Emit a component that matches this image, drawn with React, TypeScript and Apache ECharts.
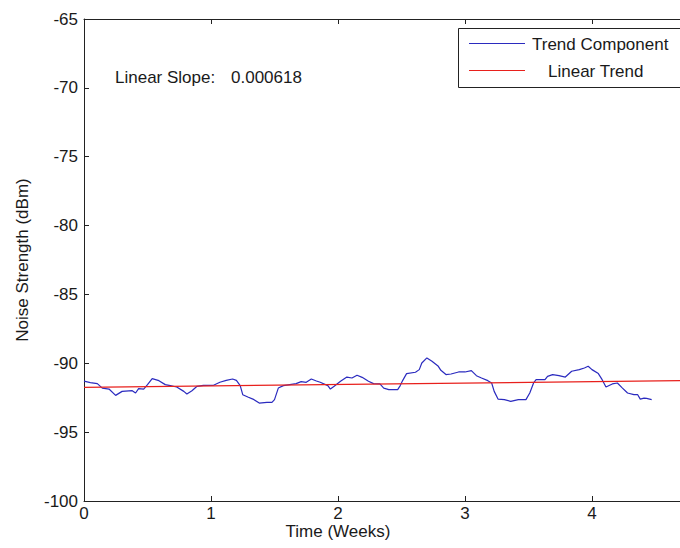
import React, { useEffect, useRef } from "react";
import * as echarts from "echarts";

// Trend component (weeks, dBm)
const weeks = [
  0, 0.05, 0.105, 0.144, 0.197, 0.249, 0.3, 0.38, 0.406, 0.43, 0.47, 0.5, 0.537, 0.59, 0.64, 0.68, 0.73, 0.786, 0.81, 0.85,
  0.89, 0.94, 1.02, 1.07, 1.12, 1.17, 1.2, 1.23, 1.25, 1.29, 1.33, 1.38, 1.44, 1.48, 1.5, 1.53, 1.57, 1.62, 1.67, 1.71,
  1.75, 1.79, 1.83, 1.86, 1.92, 1.94, 1.97, 2.02, 2.07, 2.11, 2.15, 2.19, 2.24, 2.28, 2.33, 2.36, 2.4, 2.47, 2.49, 2.51,
  2.54, 2.61, 2.64, 2.66, 2.7, 2.74, 2.79, 2.81, 2.85, 2.89, 2.95, 3.0, 3.05, 3.09, 3.13, 3.18, 3.21, 3.23, 3.26, 3.31,
  3.36, 3.42, 3.48, 3.51, 3.54, 3.56, 3.63, 3.65, 3.69, 3.74, 3.79, 3.84, 3.9, 3.94, 3.97, 4.0, 4.05, 4.08, 4.11, 4.16,
  4.2, 4.24, 4.28, 4.33, 4.36, 4.38, 4.41, 4.43, 4.47,
];
const trendComponent = [
  -91.3, -91.4, -91.48, -91.8, -91.87, -92.33, -92.04, -91.99, -92.16, -91.84, -91.87, -91.55, -91.11, -91.26, -91.55, -91.62, -91.72, -92.04, -92.23, -91.99,
  -91.67, -91.6, -91.6, -91.38, -91.24, -91.14, -91.24, -91.62, -92.28, -92.45, -92.6, -92.89, -92.84, -92.84, -92.64, -91.8, -91.62, -91.55, -91.48, -91.33,
  -91.38, -91.14, -91.29, -91.38, -91.62, -91.87, -91.67, -91.31, -91.0, -91.07, -90.87, -91.02, -91.31, -91.48, -91.5, -91.8, -91.91, -91.91, -91.62, -91.24,
  -90.75, -90.65, -90.46, -89.98, -89.61, -89.85, -90.22, -90.51, -90.82, -90.78, -90.63, -90.63, -90.53, -90.9, -91.07, -91.26, -91.43, -92.04, -92.6, -92.64,
  -92.77, -92.64, -92.64, -92.16, -91.43, -91.19, -91.19, -90.95, -90.82, -90.9, -91.0, -90.58, -90.46, -90.34, -90.22, -90.46, -90.75, -91.19, -91.72, -91.5,
  -91.43, -91.8, -92.16, -92.28, -92.28, -92.6, -92.53, -92.55, -92.64,
];

// Linear trend endpoints
const linearWeeks = [0, 4.7];
const linearTrend = [-91.75, -91.26];

// Visible extent of the (cropped) x axis
const xMin = 0;
const xMax = 4.693;

const seriesNames = ["Trend Component", "Linear Trend"];
const slopeLabel = "Linear Slope:";
const slopeValue = "0.000618";
const xTitle = "Time (Weeks)";
const yTitle = "Noise Strength (dBm)";

const FONT = "'Liberation Sans', Arial, Helvetica, sans-serif";
const TXT = "#1a1a1a";
const BLUE = "#2b2bbf";
const RED = "#e8201c";

export default function App() {
  const ref = useRef<HTMLDivElement>(null);
  useEffect(() => {
    if (!ref.current) return;
    const chart = echarts.init(ref.current, undefined, { renderer: "svg" });
    const axisCommon = {
      axisLine: { show: true, lineStyle: { color: "#222", width: 1 } },
      axisTick: { show: true, inside: true, length: 5, lineStyle: { color: "#222" } },
      splitLine: { show: false },
    };
    const font = `17px ${FONT}`;
    chart.setOption({
      animation: false,
      backgroundColor: "#ffffff",
      textStyle: { fontFamily: FONT },
      grid: { left: 84, top: 19, right: 0, bottom: 47, containLabel: false },
      xAxis: [
        {
          type: "value",
          min: xMin,
          max: xMax,
          interval: 1,
          position: "bottom",
          ...axisCommon,
          axisLabel: { color: TXT, fontSize: 17, fontFamily: FONT, margin: 4, showMaxLabel: false },
        },
        {
          type: "value",
          min: xMin,
          max: xMax,
          interval: 1,
          position: "top",
          ...axisCommon,
          axisLabel: { show: false },
        },
      ],
      yAxis: {
        type: "value",
        min: -100,
        max: -65,
        interval: 5,
        ...axisCommon,
        axisLabel: { color: TXT, fontSize: 17, fontFamily: FONT, margin: 6 },
        name: yTitle,
        nameLocation: "middle",
        nameGap: 53,
        nameTextStyle: { color: TXT, fontSize: 17, fontFamily: FONT },
      },
      graphic: [
        {
          type: "group",
          z: 10,
          children: [
            {
              type: "rect",
              shape: { x: 458.5, y: 28.5, width: 270, height: 59 },
              style: { fill: "#ffffff", stroke: "#222", lineWidth: 1 },
            },
            {
              type: "line",
              shape: { x1: 469, y1: 43.5, x2: 525, y2: 43.5 },
              style: { stroke: BLUE, lineWidth: 1.2 },
            },
            {
              type: "text",
              x: 532,
              y: 44,
              style: { text: seriesNames[0], fill: TXT, font, verticalAlign: "middle", align: "left" },
            },
            {
              type: "line",
              shape: { x1: 469, y1: 70.5, x2: 525, y2: 70.5 },
              style: { stroke: RED, lineWidth: 1.2 },
            },
            {
              type: "text",
              x: 548,
              y: 71,
              style: { text: seriesNames[1], fill: TXT, font, verticalAlign: "middle", align: "left" },
            },
          ],
        },
        {
          type: "text",
          x: 115,
          y: 77,
          style: { text: slopeLabel, fill: TXT, font, verticalAlign: "middle", align: "left" },
        },
        {
          type: "text",
          x: 231,
          y: 77,
          style: { text: slopeValue, fill: TXT, font, verticalAlign: "middle", align: "left" },
        },
        {
          type: "text",
          x: 338,
          y: 531,
          style: { text: xTitle, fill: TXT, font, verticalAlign: "middle", align: "center" },
        },
      ],
      series: [
        {
          name: seriesNames[0],
          type: "line",
          xAxisIndex: 0,
          symbol: "none",
          lineStyle: { color: BLUE, width: 1.2 },
          itemStyle: { color: BLUE },
          data: weeks.map((w, i) => [w, trendComponent[i]]),
          z: 2,
        },
        {
          name: seriesNames[1],
          type: "line",
          xAxisIndex: 0,
          symbol: "none",
          lineStyle: { color: RED, width: 1.2 },
          itemStyle: { color: RED },
          data: linearWeeks.map((w, i) => [w, linearTrend[i]]),
          z: 3,
        },
      ],
    });
    return () => chart.dispose();
  }, []);
  return <div ref={ref} style={{ position: "fixed", left: 0, top: 0, width: 680, height: 548 }} />;
}
